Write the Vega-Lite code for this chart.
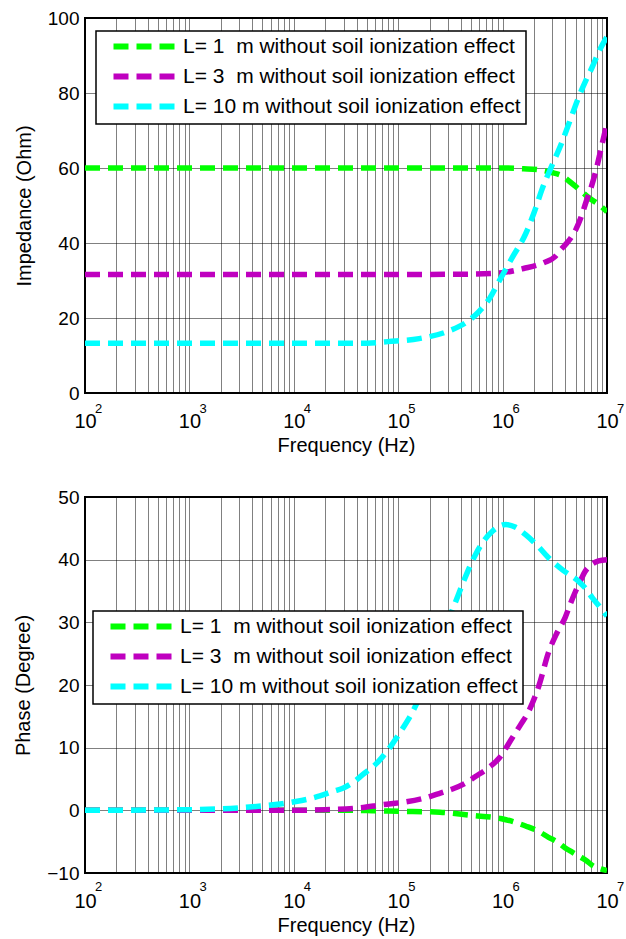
{
  "$schema": "https://vega.github.io/schema/vega-lite/v6.json",
  "background": "white",
  "padding": {"left": 12, "top": 8, "right": 12, "bottom": 4},
  "spacing": 31,
  "config": {
    "font": "Liberation Sans",
    "view": {"stroke": "black", "strokeWidth": 2},
    "axis": {
      "labelFont": "Liberation Sans", "labelFontSize": 19, "labelColor": "black",
      "titleFont": "Liberation Sans", "titleFontSize": 20, "titleFontWeight": "normal", "titleColor": "black",
      "grid": true, "gridColor": "black", "gridDash": [1, 1], "gridOpacity": 1, "gridWidth": 1,
      "domain": false, "ticks": false
    },
    "legend": {
      "orient": "none", "title": null, "fillColor": "white", "strokeColor": "black", "strokeWidth": 1.5,
      "padding": 5, "symbolType": "M0.4,0H12.6", "symbolSize": 100, "symbolStrokeWidth": 6,
      "symbolDash": [15, 8], "symbolFillColor": "transparent",
      "labelFont": "Liberation Sans", "labelFontSize": 21, "labelColor": "black", "labelLimit": 600,
      "labelOffset": 61, "rowPadding": 5
    }
  },
  "datasets": {
    "exps": [
      {"f": 100, "e": "2"}, {"f": 1000, "e": "3"}, {"f": 10000, "e": "4"},
      {"f": 100000, "e": "5"}, {"f": 1000000, "e": "6"}, {"f": 10000000, "e": "7"}
    ],
    "imp": [
      {"f": 100, "L": "1", "v": 60}, {"f": 1000, "L": "1", "v": 60}, {"f": 10000, "L": "1", "v": 60},
      {"f": 100000, "L": "1", "v": 60}, {"f": 501187, "L": "1", "v": 60}, {"f": 1000000, "L": "1", "v": 60},
      {"f": 1584893, "L": "1", "v": 59.8}, {"f": 2238721, "L": "1", "v": 59.5}, {"f": 2951209, "L": "1", "v": 58.8},
      {"f": 3715352, "L": "1", "v": 57.9}, {"f": 4466836, "L": "1", "v": 56.2}, {"f": 5623413, "L": "1", "v": 53.9},
      {"f": 6761830, "L": "1", "v": 52.0}, {"f": 8317638, "L": "1", "v": 50.3}, {"f": 10000000, "L": "1", "v": 48.3},

      {"f": 100, "L": "3", "v": 31.6}, {"f": 1000, "L": "3", "v": 31.6}, {"f": 10000, "L": "3", "v": 31.6},
      {"f": 100000, "L": "3", "v": 31.6}, {"f": 501187, "L": "3", "v": 31.7}, {"f": 1000000, "L": "3", "v": 32.1},
      {"f": 1584893, "L": "3", "v": 33.2}, {"f": 2511886, "L": "3", "v": 34.8}, {"f": 3162278, "L": "3", "v": 36.3},
      {"f": 3548134, "L": "3", "v": 38.0}, {"f": 3981072, "L": "3", "v": 39.5}, {"f": 4466836, "L": "3", "v": 41.2},
      {"f": 5011872, "L": "3", "v": 43.5}, {"f": 5623413, "L": "3", "v": 46.8}, {"f": 6309573, "L": "3", "v": 51.0},
      {"f": 7079458, "L": "3", "v": 55.0}, {"f": 7943282, "L": "3", "v": 60.0}, {"f": 8912509, "L": "3", "v": 66.0},
      {"f": 10000000, "L": "3", "v": 72.0},

      {"f": 100, "L": "10", "v": 13.3}, {"f": 1000, "L": "10", "v": 13.3}, {"f": 10000, "L": "10", "v": 13.3},
      {"f": 50119, "L": "10", "v": 13.3}, {"f": 79433, "L": "10", "v": 13.7}, {"f": 158489, "L": "10", "v": 14.5},
      {"f": 309030, "L": "10", "v": 16.6}, {"f": 446684, "L": "10", "v": 18.8}, {"f": 588844, "L": "10", "v": 21.6},
      {"f": 741310, "L": "10", "v": 25.0}, {"f": 933254, "L": "10", "v": 30.0}, {"f": 1258925, "L": "10", "v": 36.5},
      {"f": 1659587, "L": "10", "v": 42.4}, {"f": 1995262, "L": "10", "v": 48.0}, {"f": 2398833, "L": "10", "v": 54.5},
      {"f": 2951209, "L": "10", "v": 60.5}, {"f": 3715352, "L": "10", "v": 67.0}, {"f": 4466836, "L": "10", "v": 73.0},
      {"f": 5370318, "L": "10", "v": 79.0}, {"f": 6309573, "L": "10", "v": 83.5}, {"f": 7244360, "L": "10", "v": 87.0},
      {"f": 8511380, "L": "10", "v": 91.5}, {"f": 10000000, "L": "10", "v": 95.0}
    ],
    "phase": [
      {"f": 100, "L": "1", "v": 0}, {"f": 1000, "L": "1", "v": 0}, {"f": 10000, "L": "1", "v": 0},
      {"f": 39811, "L": "1", "v": 0}, {"f": 56234, "L": "1", "v": -0.05}, {"f": 100000, "L": "1", "v": -0.15},
      {"f": 251189, "L": "1", "v": -0.3}, {"f": 501187, "L": "1", "v": -0.8}, {"f": 954993, "L": "1", "v": -1.3},
      {"f": 1258925, "L": "1", "v": -1.8}, {"f": 1659587, "L": "1", "v": -2.5}, {"f": 2238721, "L": "1", "v": -3.4},
      {"f": 2754229, "L": "1", "v": -4.3}, {"f": 3311311, "L": "1", "v": -5.0}, {"f": 3981072, "L": "1", "v": -6.0},
      {"f": 4677351, "L": "1", "v": -6.7}, {"f": 5370318, "L": "1", "v": -7.3}, {"f": 6309573, "L": "1", "v": -8.0},
      {"f": 7413102, "L": "1", "v": -8.9}, {"f": 8511380, "L": "1", "v": -9.3}, {"f": 10000000, "L": "1", "v": -9.6},

      {"f": 100, "L": "3", "v": 0}, {"f": 1000, "L": "3", "v": 0}, {"f": 10000, "L": "3", "v": 0},
      {"f": 19953, "L": "3", "v": 0.1}, {"f": 43652, "L": "3", "v": 0.4}, {"f": 70795, "L": "3", "v": 0.9},
      {"f": 112202, "L": "3", "v": 1.3}, {"f": 181970, "L": "3", "v": 2.0}, {"f": 257040, "L": "3", "v": 2.8},
      {"f": 331131, "L": "3", "v": 3.4}, {"f": 436516, "L": "3", "v": 4.3}, {"f": 549541, "L": "3", "v": 5.4},
      {"f": 707946, "L": "3", "v": 6.6}, {"f": 933254, "L": "3", "v": 8.4}, {"f": 1230269, "L": "3", "v": 11.5},
      {"f": 1479108, "L": "3", "v": 13.6}, {"f": 1778279, "L": "3", "v": 15.8}, {"f": 2238721, "L": "3", "v": 20.0},
      {"f": 2754229, "L": "3", "v": 25.2}, {"f": 3311311, "L": "3", "v": 28.3}, {"f": 3981072, "L": "3", "v": 30.8},
      {"f": 4466836, "L": "3", "v": 33.0}, {"f": 5011872, "L": "3", "v": 35.0}, {"f": 5623413, "L": "3", "v": 36.8},
      {"f": 6165950, "L": "3", "v": 38.1}, {"f": 7079458, "L": "3", "v": 39.2}, {"f": 8317638, "L": "3", "v": 39.8},
      {"f": 10000000, "L": "3", "v": 40.0},

      {"f": 100, "L": "10", "v": 0}, {"f": 1000, "L": "10", "v": 0.1}, {"f": 3020, "L": "10", "v": 0.4},
      {"f": 5012, "L": "10", "v": 0.7}, {"f": 7413, "L": "10", "v": 1.0}, {"f": 10471, "L": "10", "v": 1.4},
      {"f": 17783, "L": "10", "v": 2.3}, {"f": 23442, "L": "10", "v": 3.0}, {"f": 30200, "L": "10", "v": 3.6},
      {"f": 38019, "L": "10", "v": 4.6}, {"f": 45709, "L": "10", "v": 5.7}, {"f": 63096, "L": "10", "v": 7.6},
      {"f": 87096, "L": "10", "v": 10.5}, {"f": 109648, "L": "10", "v": 13.0}, {"f": 138038, "L": "10", "v": 15.8},
      {"f": 177828, "L": "10", "v": 19.8}, {"f": 223872, "L": "10", "v": 24.0}, {"f": 281838, "L": "10", "v": 29.0},
      {"f": 354813, "L": "10", "v": 33.3}, {"f": 446684, "L": "10", "v": 37.5}, {"f": 549541, "L": "10", "v": 40.8},
      {"f": 660693, "L": "10", "v": 43.0}, {"f": 794328, "L": "10", "v": 44.5}, {"f": 1071519, "L": "10", "v": 45.6},
      {"f": 1318257, "L": "10", "v": 45.2}, {"f": 1659587, "L": "10", "v": 44.0}, {"f": 2137962, "L": "10", "v": 42.3},
      {"f": 2754229, "L": "10", "v": 40.3}, {"f": 3801894, "L": "10", "v": 38.3}, {"f": 5370318, "L": "10", "v": 36.5},
      {"f": 6309573, "L": "10", "v": 35.3}, {"f": 7244360, "L": "10", "v": 33.9}, {"f": 8511380, "L": "10", "v": 32.5},
      {"f": 10000000, "L": "10", "v": 31.0}
    ]
  },
  "vconcat": [
    {
      "width": 522, "height": 375,
      "layer": [
        {
          "data": {"name": "imp"},
          "mark": {"type": "line", "strokeWidth": 5.5, "strokeDash": [15, 8], "strokeCap": "butt", "interpolate": "monotone", "clip": true},
          "encoding": {
            "x": {
              "field": "f", "type": "quantitative",
              "scale": {"type": "log", "domain": [100, 10000000], "nice": false},
              "axis": {
                "title": "Frequency (Hz)", "labelPadding": 18, "titlePadding": 4, "labelOverlap": false, "labelFlush": false, "labelFontSize": 20, "labelDx": -4,
                "values": [100,200,300,400,500,600,700,800,900,1000,2000,3000,4000,5000,6000,7000,8000,9000,10000,20000,30000,40000,50000,60000,70000,80000,90000,100000,200000,300000,400000,500000,600000,700000,800000,900000,1000000,2000000,3000000,4000000,5000000,6000000,7000000,8000000,9000000,10000000],
                "labelExpr": "indexof([100,1000,10000,100000,1000000,10000000], datum.value) >= 0 ? '10' : ''"
              }
            },
            "y": {
              "field": "v", "type": "quantitative",
              "scale": {"domain": [0, 100], "nice": false},
              "axis": {"title": "Impedance (Ohm)", "values": [0, 20, 40, 60, 80, 100], "labelPadding": 6, "titlePadding": 13}
            },
            "color": {
              "field": "L", "type": "nominal", "sort": ["1", "3", "10"],
              "scale": {"domain": ["1", "3", "10"], "range": ["#00ff00", "#bf00bf", "#00ffff"]},
              "legend": {
                "legendX": 11, "legendY": 13,
                "labelExpr": "datum.label == '10' ? 'L= 10 m without soil ionization effect' : 'L= ' + datum.label + '\u00a0 m without soil ionization effect'"
              }
            }
          }
        },
        {
          "data": {"name": "exps"},
          "mark": {"type": "text", "align": "left", "baseline": "top", "dx": 10, "dy": 10, "fontSize": 13, "font": "Liberation Sans", "color": "black"},
          "encoding": {
            "x": {"field": "f", "type": "quantitative"},
            "y": {"datum": 0},
            "text": {"field": "e"}
          }
        }
      ]
    },
    {
      "width": 522, "height": 376,
      "layer": [
        {
          "data": {"name": "phase"},
          "mark": {"type": "line", "strokeWidth": 5.5, "strokeDash": [15, 8], "strokeCap": "butt", "interpolate": "monotone", "clip": true},
          "encoding": {
            "x": {
              "field": "f", "type": "quantitative",
              "scale": {"type": "log", "domain": [100, 10000000], "nice": false},
              "axis": {
                "title": "Frequency (Hz)", "labelPadding": 18, "titlePadding": 4, "labelOverlap": false, "labelFlush": false, "labelFontSize": 20, "labelDx": -4,
                "values": [100,200,300,400,500,600,700,800,900,1000,2000,3000,4000,5000,6000,7000,8000,9000,10000,20000,30000,40000,50000,60000,70000,80000,90000,100000,200000,300000,400000,500000,600000,700000,800000,900000,1000000,2000000,3000000,4000000,5000000,6000000,7000000,8000000,9000000,10000000],
                "labelExpr": "indexof([100,1000,10000,100000,1000000,10000000], datum.value) >= 0 ? '10' : ''"
              }
            },
            "y": {
              "field": "v", "type": "quantitative",
              "scale": {"domain": [-10, 50], "nice": false},
              "axis": {"title": "Phase (Degree)", "values": [-10, 0, 10, 20, 30, 40, 50], "labelPadding": 6, "titlePadding": 13}
            },
            "color": {
              "field": "L", "type": "nominal", "sort": ["1", "3", "10"],
              "scale": {"domain": ["1", "3", "10"], "range": ["#00ff00", "#bf00bf", "#00ffff"]},
              "legend": {
                "legendX": 8, "legendY": 114,
                "labelExpr": "datum.label == '10' ? 'L= 10 m without soil ionization effect' : 'L= ' + datum.label + '\u00a0 m without soil ionization effect'"
              }
            }
          }
        },
        {
          "data": {"name": "exps"},
          "mark": {"type": "text", "align": "left", "baseline": "top", "dx": 10, "dy": 8, "fontSize": 13, "font": "Liberation Sans", "color": "black"},
          "encoding": {
            "x": {"field": "f", "type": "quantitative"},
            "y": {"datum": -10},
            "text": {"field": "e"}
          }
        }
      ]
    }
  ],
  "resolve": {"scale": {"y": "independent"}, "legend": {"color": "independent"}}
}
